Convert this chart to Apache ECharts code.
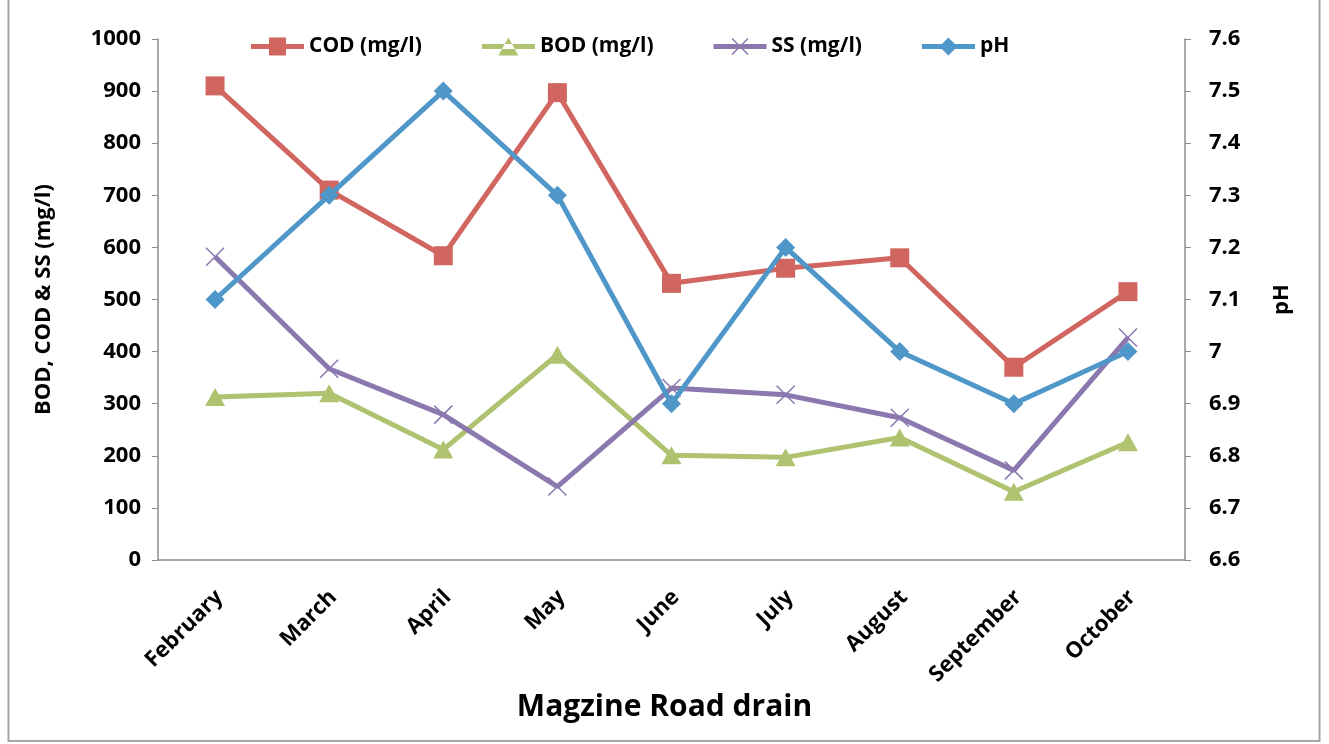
<!DOCTYPE html>
<html><head><meta charset="utf-8">
<script src="https://cdn.jsdelivr.net/npm/echarts@6/dist/echarts.min.js"></script>
<style>html,body{margin:0;padding:0;background:#fff}#c{width:1329px;height:744px}</style>
</head><body><div id="c"></div>
<script>
const categories = ['February','March','April','May','June','July','August','September','October'];
const cod = [910, 710, 584, 897, 531, 560, 580, 370, 515];
const bod = [313, 320, 212, 394, 201, 197, 235, 131, 226];
const ss  = [582, 367, 279, 141, 330, 317, 273, 172, 427];
const ph  = [7.1, 7.3, 7.5, 7.3, 6.9, 7.2, 7.0, 6.9, 7.0];
const leftTicks = [0, 1000, 100];
const rightTicks = [6.6, 7.6, 0.1];

const FONT = '"Open Sans", sans-serif';
const C_COD = '#D0665F', C_BOD = '#AEC270', C_SS = '#8B78AE', C_PH = '#4F97C9';
const chart = echarts.init(document.getElementById('c'), null, {renderer: 'canvas'});
const diamond = 'path://M5,0L10,5L5,10L0,5Z';
const cross = 'path://M0,0L10,10M10,0L0,10';
// legend icons: line (5px thick) with marker in middle, bbox 53x18
const LINE = 'M0,6.5L53,6.5L53,11.5L0,11.5Z';
const icoCOD = 'path://' + LINE + 'M18,0L35,0L35,18L18,18Z';
const icoBOD = 'path://' + LINE + 'M16.5,18L36.5,18L26.5,0Z';
const icoSS  = 'path://' + LINE + 'M19.03,0.47L35.03,16.47L33.97,17.53L17.97,1.53Z M35.03,1.53L19.03,17.53L17.97,16.47L33.97,0.47Z';
const icoPH  = 'path://' + LINE + 'M26.5,0L35.5,9L26.5,18L17.5,9Z';
chart.setOption({
  animation: false,
  backgroundColor: '#fff',
  graphic: [{type: 'rect', shape: {x: 8.5, y: -2, width: 1311, height: 743}, style: {fill: 'none', stroke: '#a6a6a6', lineWidth: 2}}],
  title: {text: 'Magzine Road drain', left: 'center', top: 687, textStyle: {fontFamily: FONT, fontWeight: 'bold', fontSize: 30, color: '#000'}},
  legend: {
    top: 31, left: 246, itemGap: 60, itemWidth: 53, itemHeight: 18,
    textStyle: {fontFamily: FONT, fontWeight: 'bold', fontSize: 21, color: '#000'},
    data: [
      {name: 'COD (mg/l)', icon: icoCOD, itemStyle: {color: C_COD, borderWidth: 0}},
      {name: 'BOD (mg/l)', icon: icoBOD, itemStyle: {color: C_BOD, borderWidth: 0}},
      {name: 'SS (mg/l)', icon: icoSS, itemStyle: {color: C_SS, borderWidth: 0}},
      {name: 'pH', icon: icoPH, itemStyle: {color: C_PH, borderWidth: 0}}
    ]
  },
  grid: {left: 158, right: 144, top: 39, bottom: 184},
  xAxis: {
    type: 'category', data: categories, boundaryGap: true,
    axisLine: {lineStyle: {color: '#8c8c8c', width: 1.5}},
    axisTick: {show: false},
    axisLabel: {rotate: 45, interval: 0, color: '#000', fontFamily: FONT, fontWeight: 'bold', fontSize: 22, margin: 38,
      padding: [0, -6, 0, 0]}
  },
  yAxis: [{
    type: 'value', min: leftTicks[0], max: leftTicks[1], interval: leftTicks[2],
    name: 'BOD, COD & SS (mg/l)', nameLocation: 'middle', nameGap: 103, nameRotate: 90,
    nameTextStyle: {fontFamily: FONT, fontWeight: 'bold', fontSize: 22, color: '#000'},
    axisLine: {show: true, lineStyle: {color: '#8c8c8c', width: 1.5}},
    axisTick: {show: true, length: 6, lineStyle: {color: '#8c8c8c'}},
    splitLine: {show: false},
    axisLabel: {color: '#000', fontFamily: FONT, fontWeight: 'bold', fontSize: 22, margin: 17,
      formatter: v => String(v)}
  }, {
    type: 'value', min: rightTicks[0], max: rightTicks[1], interval: rightTicks[2], position: 'right',
    name: 'pH', nameLocation: 'middle', nameGap: 86, nameRotate: 90,
    nameTextStyle: {fontFamily: FONT, fontWeight: 'bold', fontSize: 22, color: '#000'},
    axisLine: {show: true, lineStyle: {color: '#8c8c8c', width: 1.5}},
    axisTick: {show: true, length: 6, lineStyle: {color: '#8c8c8c'}},
    splitLine: {show: false},
    axisLabel: {color: '#000', fontFamily: FONT, fontWeight: 'bold', fontSize: 22, margin: 24,
      formatter: v => (Math.round(v * 10) / 10).toString()}
  }],
  series: [
    {name: 'COD (mg/l)', type: 'line', data: cod, yAxisIndex: 0, symbol: 'rect', symbolSize: 19,
     lineStyle: {width: 5, color: C_COD}, itemStyle: {color: C_COD}, z: 3},
    {name: 'BOD (mg/l)', type: 'line', data: bod, yAxisIndex: 0, symbol: 'triangle', symbolSize: [20, 18],
     lineStyle: {width: 5, color: C_BOD}, itemStyle: {color: C_BOD}, z: 3},
    {name: 'SS (mg/l)', type: 'line', data: ss, yAxisIndex: 0, symbol: cross, symbolSize: 18,
     lineStyle: {width: 5, color: C_SS}, itemStyle: {color: 'rgba(0,0,0,0)', borderColor: C_SS, borderWidth: 1.5}, z: 3},
    {name: 'pH', type: 'line', data: ph, yAxisIndex: 1, symbol: diamond, symbolSize: 19,
     lineStyle: {width: 5, color: C_PH}, itemStyle: {color: C_PH}, z: 4}
  ]
});
</script></body></html>
